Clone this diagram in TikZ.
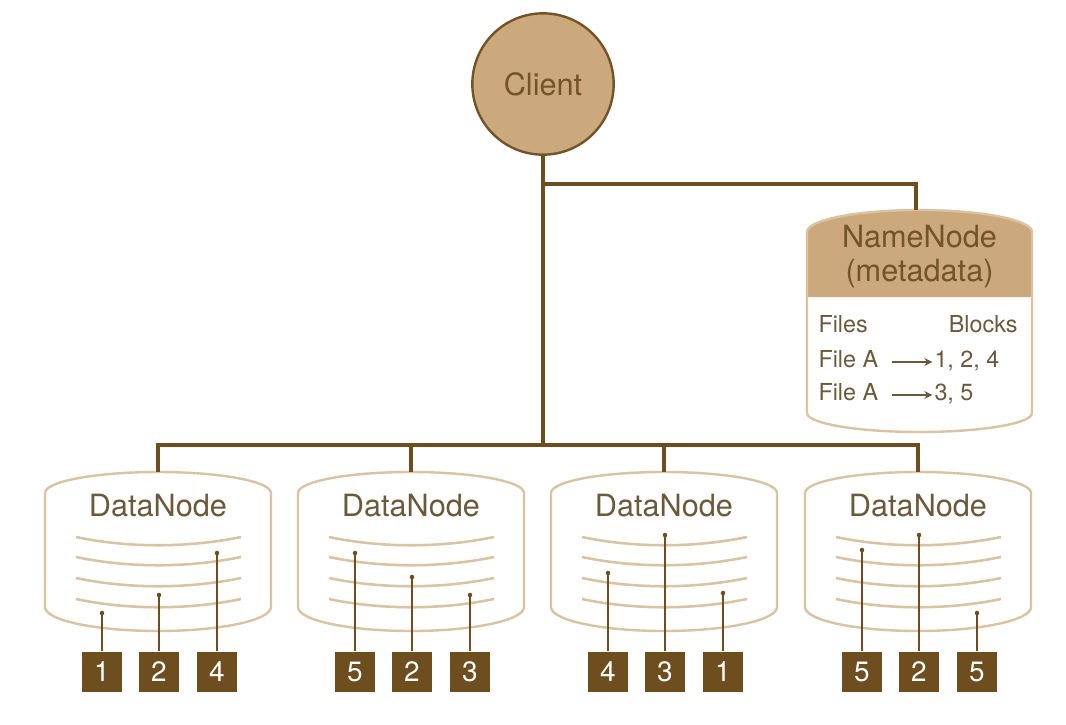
\documentclass[tikz,border=0pt]{standalone}
\usepackage{fontspec}
\setmainfont{TeX Gyre Heros}
\usetikzlibrary{arrows.meta}
\definecolor{clienttan}{RGB}{204,169,124}
\definecolor{darkbrown}{RGB}{110,77,30}
\definecolor{rimtan}{RGB}{218,195,163}
\definecolor{textbrown}{RGB}{108,88,58}
\definecolor{headbrown}{RGB}{114,84,40}
\tikzset{every picture/.style={line width=0.75pt}}
\tikzset{
  link/.style={draw=darkbrown, line width=2.6pt},
  barrel/.style={draw=rimtan, line width=1.8pt},
  platter/.style={draw=rimtan, line width=1.9pt},
  stem/.style={draw=darkbrown, line width=1.4pt},
  block/.style={fill=darkbrown, text=white, minimum size=30.5pt, inner sep=0pt, font=\fontsize{21}{24}\selectfont},
  nodetext/.style={text=textbrown, inner sep=0.75pt, font=\fontsize{23}{27}\selectfont},
  tabletext/.style={text=textbrown, inner sep=0.75pt, text height=12pt, text depth=4.5pt, font=\fontsize{17.5}{21}\selectfont},
  pointer/.style={draw=textbrown, line width=1.3pt, -{Stealth[length=6pt,width=6pt]}, shorten <=9pt, shorten >=0.5pt},
}

\begin{document}
\begin{tikzpicture}[x=0.75pt,y=0.75pt,yscale=-1,xscale=1]
\useasboundingbox (0,0) rectangle (1066,724);
\fill[white] (0,0) rectangle (1066,724);

%Shape: Circle [Client]
\node[circle, draw=headbrown, fill=clienttan, line width=1.8pt, minimum size=106pt, inner sep=0pt, text=headbrown, font=\fontsize{23}{27}\selectfont] (client) at (543,84) {Client};

%Shape: NameNode header
\fill[clienttan] (807,297) -- (807,232) arc[start angle=180,end angle=360,x radius=112.5,y radius=22] -- (1032,297) -- cycle;
%Shape: NameNode barrel
\draw[barrel] (807,232) arc[start angle=180,end angle=360,x radius=112.5,y radius=22] -- (1032,413) arc[start angle=0,end angle=180,x radius=112.5,y radius=19] -- cycle;
\coordinate (nntop) at (916,210);

% Text Node
\node[nodetext, text=headbrown, anchor=base] (nn) at (919.5,247) {NameNode};
\node[nodetext, text=headbrown, anchor=base] (meta) at (919.5,281) {(metadata)};
\node[tabletext, anchor=base west] (files) at (817,332) {Files};
\node[tabletext, anchor=base east] (blocks) at (1019,332) {Blocks};
\node[tabletext, anchor=base west] (fileA) at (817,367) {File A};
\node[tabletext, anchor=base west] (blkA) at (933,367) {1, 2, 4};
\node[tabletext, anchor=base west] (fileB) at (817,400) {File A};
\node[tabletext, anchor=base west] (blkB) at (933,400) {3, 5};
\draw[pointer] (fileA.east) -- (blkA.west);
\draw[pointer] (fileB.east) -- (blkB.west);

%DataNodes: centre / block and dot height of each stem
\foreach \c/\ba/\ya/\bb/\yb/\bc/\yc [count=\i] in {158/1/613/2/595/4/553, 411/5/553/2/577/3/595, 664/4/573/3/535/1/593, 918/5/550/2/535/5/613}{
  %Shape: DataNode barrel
  \draw[barrel] (\c-113,493) arc[start angle=180,end angle=360,x radius=113,y radius=21] -- (\c+113,607) arc[start angle=0,end angle=180,x radius=113,y radius=24] -- cycle;
  %Curve Lines: platters
  \foreach \y in {537,557,578,599}
    \draw[platter] (\c-82,\y) .. controls (\c-30,\y+11) and (\c+30,\y+11) .. (\c+83,\y);
  \node[nodetext] (dn\i) at (\c,506) {DataNode};
  \coordinate (dntop\i) at (\c,472);
  %Blocks
  \node[block] (blk\i-1) at (\c-56,672) {\ba};
  \node[block] (blk\i-2) at (\c+1,672) {\bb};
  \node[block] (blk\i-3) at (\c+59,672) {\bc};
  \coordinate (dot\i-1) at (\c-56,\ya);
  \coordinate (dot\i-2) at (\c+1,\yb);
  \coordinate (dot\i-3) at (\c+59,\yc);
  \foreach \k in {1,2,3}{
    \draw[stem] (blk\i-\k.north) -- (dot\i-\k);
    \fill[darkbrown] (dot\i-\k) circle (1.7pt);
  }
}

%Straight Lines: client to bus
\coordinate (split) at (543,184);
\coordinate (bus) at (543,445);
\draw[link] (client.south) -- (bus);
\draw[link] (split) -| (nntop);
\foreach \i in {1,...,4}
  \draw[link] (bus) -| (dntop\i);

\end{tikzpicture}
\end{document}
